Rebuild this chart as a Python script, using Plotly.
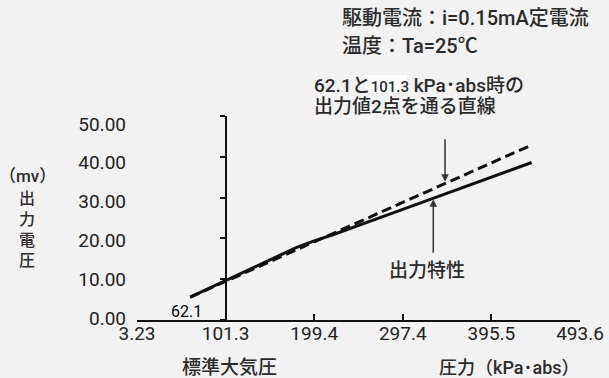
import plotly.graph_objects as go

# Pressure (kPa abs) vs. output voltage (mV)
pressure_curve = [62.1, 101.3, 150.0, 180.0, 199.4, 220.0, 297.4, 395.5, 440.0]
output_curve = [5.6, 9.6, 14.7, 17.8, 19.4, 20.9, 27.1, 35.0, 38.6]

# Straight line through the 62.1 and 101.3 kPa outputs, extended
pressure_line = [62.1, 440.0]
output_line = [5.6, 42.9]

x_ticks = [3.23, 101.3, 199.4, 297.4, 395.5, 493.6]
x_tick_text = ["3.23", "101.3", "199.4", "297.4", "395.5", "493.6"]
y_ticks = [0, 10, 20, 30, 40, 50]
y_tick_text = ["0.00", "10.00", "20.00", "30.00", "40.00", "50.00"]
std_pressure = 101.3

W, H = 609, 378
L, R, T, B = 137, 29, 116, 58
PW, PH = W - L - R, H - T - B

BG = "#f2f2f2"
INK = "#111111"
TXT = "#2b2b2b"
FONT = "Roboto, Noto Sans CJK JP, sans-serif"
NOTE_WEIGHT = 500


def px(x):
    return (x - L) / PW


def py(y):
    return (T + PH - y) / PH


fig = go.Figure()

fig.add_trace(go.Scatter(
    x=pressure_line, y=output_line, mode="lines", yaxis="y2",
    line=dict(color=INK, width=3, dash="10px,5px"), showlegend=False,
    hoverinfo="skip",
))
fig.add_trace(go.Scatter(
    x=pressure_curve, y=output_curve, mode="lines", yaxis="y2",
    line=dict(color=INK, width=3), showlegend=False, hoverinfo="skip",
))
# empty trace that keeps the labelled voltage axis in the subplot
fig.add_trace(go.Scatter(
    x=[None], y=[None], mode="lines", yaxis="y", showlegend=False,
    hoverinfo="skip",
))

x_min, x_max = x_ticks[0], x_ticks[-1]

fig.update_layout(
    template="none",
    width=W, height=H,
    margin=dict(l=L, r=R, t=T, b=B, pad=0),
    paper_bgcolor=BG, plot_bgcolor=BG,
    font=dict(family=FONT, size=19, color=TXT),
    xaxis=dict(
        range=[x_min, x_max], tickvals=x_ticks, ticktext=x_tick_text,
        showgrid=False, zeroline=False, showline=True, linecolor=INK,
        linewidth=2, ticks="inside", ticklen=6, tickwidth=1.5,
        tickcolor=INK, ticklabelstandoff=-5, automargin=False,
        tickfont=dict(size=19, color="#222222"),
    ),
    # tick labels for the voltage scale, set off to the left
    yaxis=dict(
        range=[-0.515, 52.06], tickvals=y_ticks, ticktext=y_tick_text,
        showgrid=False, zeroline=False, showline=False, ticks="",
        ticklabelstandoff=10, automargin=False,
        tickfont=dict(size=19, color="#222222"),
    ),
    # the vertical axis drawn at standard atmospheric pressure
    yaxis2=dict(
        range=[0, 50], tickvals=y_ticks, overlaying="y", anchor="free",
        position=(std_pressure - x_min) / (x_max - x_min), side="left",
        showgrid=False, zeroline=False, showline=True, linecolor=INK,
        linewidth=2, ticks="outside", ticklen=5, tickwidth=1.5,
        tickcolor=INK, showticklabels=False, automargin=False,
    ),
)

# white box behind the small "101.3"
fig.add_shape(type="rect", xref="paper", yref="paper",
              x0=px(365), x1=px(407), y0=py(93), y1=py(75),
              fillcolor="white", line=dict(width=0), layer="below")


def note(text, x, y, xanchor="center", size=19, color=TXT, weight=NOTE_WEIGHT):
    fig.add_annotation(text=text, xref="paper", yref="paper",
                       x=px(x), y=py(y), xanchor=xanchor, yanchor="middle",
                       showarrow=False,
                       font=dict(size=size, color=color, weight=weight))


note("駆動電流：i=0.15mA定電流", 340, 18, "left", size=20)
note("温度：Ta=25℃", 340, 46, "left", size=20)
note("62.1と<span style='font-size:15px'>101.3</span> kPa･abs時の", 312, 85, "left")
note("出力値2点を通る直線", 312, 107, "left")
note("出力特性", 427, 270)
note("62.1", 186, 311, size=16, color="#000000", weight=400)
note("（mv）", 27, 176, size=17)
note("出<br>力<br>電<br>圧", 27, 229, size=16)
note("標準大気圧", 229, 367)
note("圧力（kPa･abs）", 509, 367, size=18)

# arrows pointing at the two lines
fig.add_annotation(x=344.2, y=33.9, xref="x", yref="y2", text="",
                   showarrow=True, ax=0, ay=-44, arrowhead=2, arrowsize=1,
                   arrowwidth=1.5, arrowcolor="#333333")
fig.add_annotation(x=331.2, y=29.6, xref="x", yref="y2", text="",
                   showarrow=True, ax=0, ay=55, arrowhead=2, arrowsize=1,
                   arrowwidth=1.5, arrowcolor="#333333")

fig.write_html("out.html")
